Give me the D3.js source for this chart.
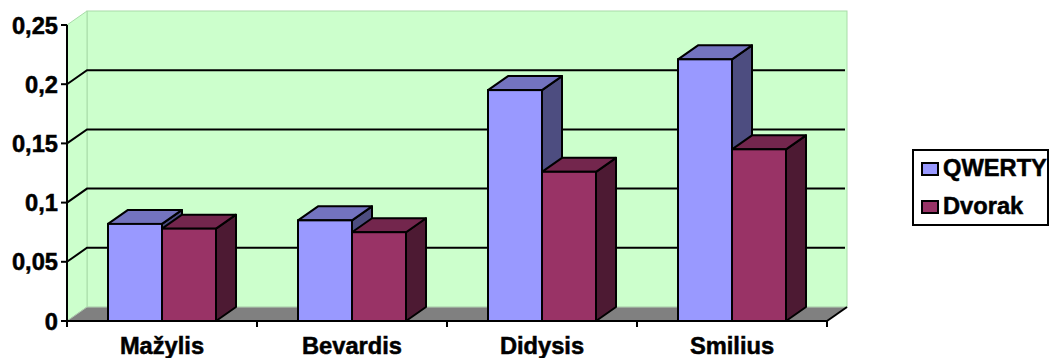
<!DOCTYPE html>
<html>
<head>
<meta charset="utf-8">
<script src="https://cdn.jsdelivr.net/npm/d3@7"></script>
<style>
  html, body { margin: 0; padding: 0; background: #fff; }
  svg { display: block; }
  text { font-family: Arial, "Liberation Sans", sans-serif; font-weight: bold; fill: #000; stroke: #000; stroke-width: 0.5px; }
</style>
</head>
<body>
<svg id="chart" width="1050" height="358"></svg>
<script>
// Layouts compared
const categories = ["Mažylis", "Bevardis", "Didysis", "Smilius"];
const seriesNames = ["QWERTY", "Dvorak"];
const qwerty = [0.082, 0.085, 0.195, 0.221];
const dvorak = [0.078, 0.075, 0.126, 0.145];
const yTicks = [0, 0.05, 0.1, 0.15, 0.2, 0.25];
const yTickLabels = ["0", "0,05", "0,1", "0,15", "0,2", "0,25"];

const seriesValues = [qwerty, dvorak];
const faceColors = [
  { front: "#9999ff", top: "#7373bf", side: "#4d4d80" },
  { front: "#993366", top: "#73264d", side: "#4d1a33" }
];

const svg = d3.select("#chart");

// Plot frame (front plane) and 3D depth offset
const pL = 67, pR = 827, pT = 25, pB = 321;
const dx = 20, dy = -14;
const stretch = 1.03;
const fontSize = 23;

const y = d3.scaleLinear().domain([0, 0.25]).range([pB, pT]);
const x0 = d3.scaleBand().domain(categories).range([pL, pR]).padding(0);
const x1 = d3.scaleBand().domain(seriesNames).range([41, 149]).padding(0);

const g = svg.append("g");

// Back wall
g.append("rect")
  .attr("x", pL + dx).attr("y", pT + dy)
  .attr("width", pR - pL).attr("height", pB - pT)
  .attr("fill", "#ccffcc").attr("stroke", "#a8dca8").attr("stroke-width", 1);

// Left side wall
g.append("path")
  .attr("d", `M${pL},${pT} L${pL + dx},${pT + dy} L${pL + dx},${pB + dy} L${pL},${pB} Z`)
  .attr("fill", "#ccffcc").attr("stroke", "#a8dca8").attr("stroke-width", 1);

// Floor
g.append("path")
  .attr("d", `M${pL},${pB} L${pR},${pB} L${pR + dx},${pB + dy} L${pL + dx},${pB + dy} Z`)
  .attr("fill", "#808080");
g.append("line")
  .attr("x1", pL + dx).attr("x2", pR + dx)
  .attr("y1", pB + dy).attr("y2", pB + dy)
  .attr("stroke", "#b8d8b8").attr("stroke-width", 1);
g.append("line")
  .attr("x1", pL).attr("y1", pB)
  .attr("x2", pL + dx).attr("y2", pB + dy)
  .attr("stroke", "#b0c8b0").attr("stroke-width", 1);
g.append("line")
  .attr("x1", pR).attr("y1", pB)
  .attr("x2", pR + dx).attr("y2", pB + dy)
  .attr("stroke", "#000").attr("stroke-width", 2);

// Gridlines on the back wall and the side wall
const gridVals = yTicks.filter(v => v > 0 && v < 0.25);
gridVals.forEach(v => {
  const yy = y(v);
  g.append("path")
    .attr("d", `M${pL},${yy} L${pL + dx},${yy + dy} L${pR + dx - 2},${yy + dy}`)
    .attr("fill", "none").attr("stroke", "#000").attr("stroke-width", 2);
});

// Bars (QWERTY first so the Dvorak block overlaps its side face)
categories.forEach((cat, ci) => {
  seriesNames.forEach((s, si) => {
    const v = seriesValues[si][ci];
    const xl = x0(cat) + x1(s);
    const xr = xl + x1.bandwidth();
    const yt = y(v), yb = y(0);
    const c = faceColors[si];
    const bar = g.append("g");
    bar.append("path")
      .attr("d", `M${xr},${yb} L${xr + dx},${yb + dy} L${xr + dx},${yt + dy} L${xr},${yt} Z`)
      .attr("fill", c.side).attr("stroke", "#000").attr("stroke-width", 2).attr("stroke-linejoin", "round");
    bar.append("path")
      .attr("d", `M${xl},${yt} L${xl + dx},${yt + dy} L${xr + dx},${yt + dy} L${xr},${yt} Z`)
      .attr("fill", c.top).attr("stroke", "#000").attr("stroke-width", 2).attr("stroke-linejoin", "round");
    bar.append("rect")
      .attr("x", xl).attr("y", yt)
      .attr("width", xr - xl).attr("height", yb - yt)
      .attr("fill", c.front).attr("stroke", "#000").attr("stroke-width", 2);
  });
});

// Value axis
const yAxisG = svg.append("g");
yAxisG.append("line")
  .attr("x1", pL).attr("x2", pL).attr("y1", pT).attr("y2", pB + 1)
  .attr("stroke", "#000").attr("stroke-width", 2);
yTicks.forEach((v, i) => {
  const yy = y(v);
  yAxisG.append("line")
    .attr("x1", pL - 6).attr("x2", pL).attr("y1", yy).attr("y2", yy)
    .attr("stroke", "#000").attr("stroke-width", 2);
  yAxisG.append("text")
    .attr("transform", `translate(${pL - 9},${yy + 8.5}) scale(${stretch},1)`)
    .attr("text-anchor", "end")
    .attr("font-size", fontSize)
    .text(yTickLabels[i]);
});

// Category axis
const xAxisG = svg.append("g");
xAxisG.append("line")
  .attr("x1", pL - 1).attr("x2", pR + 1).attr("y1", pB).attr("y2", pB)
  .attr("stroke", "#000").attr("stroke-width", 2);
const bounds = categories.map(c => x0(c)).concat([pR]);
bounds.forEach(bx => {
  xAxisG.append("line")
    .attr("x1", bx).attr("x2", bx).attr("y1", pB).attr("y2", pB + 6)
    .attr("stroke", "#000").attr("stroke-width", 2);
});
categories.forEach(cat => {
  xAxisG.append("text")
    .attr("transform", `translate(${x0(cat) + x0.bandwidth() / 2},${354}) scale(${stretch},1)`)
    .attr("text-anchor", "middle")
    .attr("font-size", fontSize)
    .text(cat);
});

// Legend
const lg = svg.append("g");
lg.append("rect")
  .attr("x", 913).attr("y", 150).attr("width", 135).attr("height", 75)
  .attr("fill", "#fff").attr("stroke", "#000").attr("stroke-width", 2);
seriesNames.forEach((s, i) => {
  const rowY = 163 + i * 38;
  lg.append("rect")
    .attr("x", 922).attr("y", rowY).attr("width", 16).attr("height", 12)
    .attr("fill", faceColors[i].front).attr("stroke", "#000").attr("stroke-width", 2);
  lg.append("text")
    .attr("transform", `translate(943,${rowY + 13}) scale(${stretch},1)`)
    .attr("font-size", fontSize)
    .text(s);
});
</script>
</body>
</html>
